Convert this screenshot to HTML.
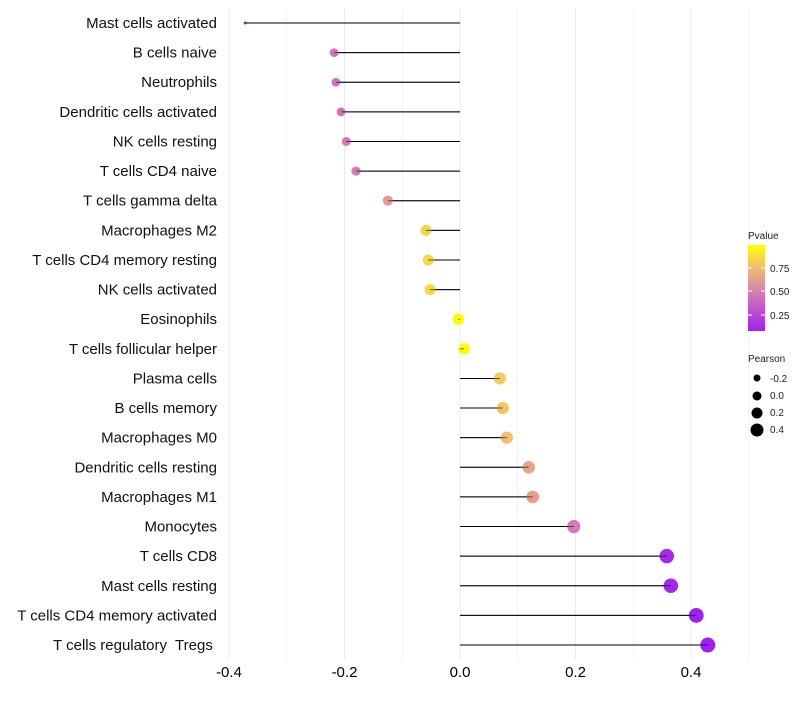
<!DOCTYPE html>
<html><head><meta charset="utf-8"><style>
body{margin:0;background:#fff;font-family:"Liberation Sans",sans-serif}
</style></head><body>
<svg id="chart" width="800" height="700" xmlns="http://www.w3.org/2000/svg">
<defs><linearGradient id="pg" x1="0" y1="1" x2="0" y2="0">
<stop offset="0" stop-color="#a020f0"/><stop offset="0.5" stop-color="#d98aa6"/><stop offset="0.75" stop-color="#f0c070"/><stop offset="1" stop-color="#ffff00"/></linearGradient></defs>
<g id="grid"></g><g id="marks"></g><g id="labels"></g>
<g font-size="10" fill="#222">
<text x="748" y="239">Pvalue</text>
<rect x="748" y="245" width="17" height="86" fill="url(#pg)"/>
<text x="770" y="272">0.75</text><text x="770" y="295">0.50</text><text x="770" y="319">0.25</text>
<line x1="748" y1="268" x2="752" y2="268" stroke="#fff"/><line x1="761" y1="268" x2="765" y2="268" stroke="#fff"/>
<line x1="748" y1="291" x2="752" y2="291" stroke="#fff"/><line x1="761" y1="291" x2="765" y2="291" stroke="#fff"/>
<line x1="748" y1="315" x2="752" y2="315" stroke="#fff"/><line x1="761" y1="315" x2="765" y2="315" stroke="#fff"/>
</g>
<g font-size="10" fill="#222">
<text x="748" y="362">Pearson</text>
<circle cx="757" cy="378" r="3.5" fill="#000"/><text x="770" y="382">-0.2</text>
<circle cx="757" cy="396" r="4.5" fill="#000"/><text x="770" y="399">0.0</text>
<circle cx="757" cy="413" r="5.5" fill="#000"/><text x="770" y="416">0.2</text>
<circle cx="757" cy="430" r="6.5" fill="#000"/><text x="770" y="433">0.4</text>
</g>
</svg>
<script>
const categories=["Mast cells activated","B cells naive","Neutrophils","Dendritic cells activated","NK cells resting","T cells CD4 naive","T cells gamma delta","Macrophages M2","T cells CD4 memory resting","NK cells activated","Eosinophils","T cells follicular helper","Plasma cells","B cells memory","Macrophages M0","Dendritic cells resting","Macrophages M1","Monocytes","T cells CD8","Mast cells resting","T cells CD4 memory activated","T cells regulatory  Tregs "];
const pearson=[-0.372,-0.218,-0.215,-0.206,-0.197,-0.18,-0.125,-0.059,-0.055,-0.052,-0.003,0.007,0.069,0.074,0.081,0.119,0.126,0.197,0.358,0.365,0.409,0.429];
const pvalue=[0.07,0.44,0.44,0.45,0.46,0.50,0.64,0.85,0.86,0.87,0.99,0.98,0.82,0.81,0.78,0.68,0.66,0.47,0.12,0.11,0.08,0.07];
const xTicks=[-0.4,-0.2,0.0,0.2,0.4];
const xTickLabels=["-0.4","-0.2","0.0","0.2","0.4"];
const NS="http://www.w3.org/2000/svg";
const x=v=>460+v*577.5, y=i=>23+i*29.62;
const r=v=>1.5+6*Math.pow(Math.max(0,(v+0.372)/0.801),0.45);
function col(p){const t=Math.max(0,Math.min(1,(p-0.08)/0.9));
 const st=[[0,[160,32,240]],[0.4,[210,115,190]],[0.6,[225,150,150]],[0.8,[242,195,105]],[1,[255,255,0]]];
 for(let k=1;k<st.length;k++){if(t<=st[k][0]){const a=st[k-1],b=st[k],u=(t-a[0])/(b[0]-a[0]);
 return "rgb("+a[1].map((c,j)=>Math.round(c+(b[1][j]-c)*u)).join(",")+")";}}return "rgb(255,255,0)";}
function mk(tag,at,par){const e=document.createElementNS(NS,tag);for(const k in at)e.setAttribute(k,at[k]);par.appendChild(e);return e;}
const grid=document.getElementById('grid'),marks=document.getElementById('marks'),labels=document.getElementById('labels');
for(let v=-0.4;v<=0.5001;v+=0.1){const g=mk('line',{x1:x(v),x2:x(v),y1:8,y2:660,stroke:'#ebebeb','stroke-width':Math.abs(Math.round(v*10))%2==0?1:0.6},grid);
}
xTicks.forEach((v,i)=>{const t=mk('text',{x:x(v),y:677,'text-anchor':'middle','font-size':15,fill:'#000'},labels);t.textContent=xTickLabels[i];
});
categories.forEach((c,i)=>{
 const t=mk('text',{x:217,y:y(i)+5,'text-anchor':'end','font-size':15,fill:'#111'},labels);t.textContent=c;t.style.whiteSpace='pre';
 
 const l=mk('line',{x1:x(0),x2:x(pearson[i]),y1:y(i),y2:y(i),stroke:'#000','stroke-width':1},marks);
 
 const d=mk('circle',{cx:x(pearson[i]),cy:y(i),r:r(pearson[i]),fill:col(pvalue[i])},marks);
 
 const l2=mk('line',{x1:x(0),x2:x(pearson[i]),y1:y(i),y2:y(i),stroke:'#000','stroke-width':1,opacity:0.6},marks);
 
});
</script>
</body></html>
